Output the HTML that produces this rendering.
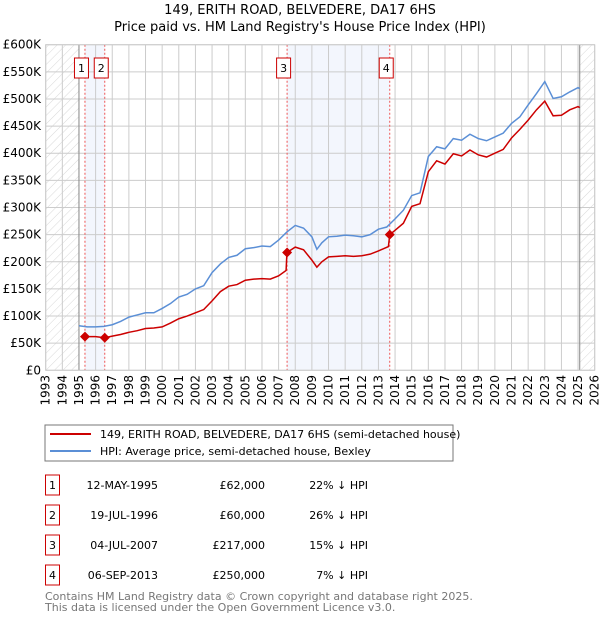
<!DOCTYPE html>
<html><head><meta charset="utf-8"><style>
body{margin:0;background:#fff;font-family:"DejaVu Sans","Liberation Sans",sans-serif;}
#wrap{position:relative;width:600px;height:620px;}
</style></head><body><div id="wrap">
<svg id="svg" width="600" height="620" style="position:absolute;left:0;top:0">
<defs><pattern id="hatch" width="6" height="6" patternUnits="userSpaceOnUse" patternTransform="rotate(45)"><line x1="0" y1="0" x2="0" y2="6" stroke="#d8d8d8" stroke-width="1"/></pattern></defs>
<text x="300" y="14" text-anchor="middle" font-size="13">149, ERITH ROAD, BELVEDERE, DA17 6HS</text>
<text x="300" y="31" text-anchor="middle" font-size="13">Price paid vs. HM Land Registry's House Price Index (HPI)</text>
<g id="plot"></g>
<rect x="45" y="425" width="408" height="36" fill="#fff" stroke="#777"/>
<line x1="50" y1="434" x2="91" y2="434" stroke="#cc0000" stroke-width="2"/>
<text x="100" y="438" font-size="11">149, ERITH ROAD, BELVEDERE, DA17 6HS (semi-detached house)</text>
<line x1="50" y1="451" x2="91" y2="451" stroke="#5b8fd6" stroke-width="2"/>
<text x="100" y="455" font-size="11">HPI: Average price, semi-detached house, Bexley</text>
<g id="table" font-size="11"></g>
<text x="45" y="600" font-size="11" fill="#777">Contains HM Land Registry data © Crown copyright and database right 2025.</text>
<text x="45" y="611" font-size="11" fill="#777">This data is licensed under the Open Government Licence v3.0.</text>
</svg></div>
<script>
const yTicks=[0,50,100,150,200,250,300,350,400,450,500,550,600];
const years=[1993,1994,1995,1996,1997,1998,1999,2000,2001,2002,2003,2004,2005,2006,2007,2008,2009,2010,2011,2012,2013,2014,2015,2016,2017,2018,2019,2020,2021,2022,2023,2024,2025,2026];
const hpiT=[1995.0,1995.5,1996,1996.5,1997,1997.5,1998,1998.5,1999,1999.5,2000,2000.5,2001,2001.5,2002,2002.5,2003,2003.5,2004,2004.5,2005,2005.5,2006,2006.5,2007,2007.5,2008,2008.5,2009,2009.3,2009.6,2010,2010.5,2011,2011.5,2012,2012.5,2013,2013.5,2014,2014.5,2015,2015.5,2016,2016.5,2017,2017.5,2018,2018.5,2019,2019.5,2020,2020.5,2021,2021.5,2022,2022.5,2023,2023.5,2024,2024.5,2025,2025.1];
const hpiV=[82,80,80,81,84,90,98,102,106,106,114,123,135,140,150,156,180,196,208,212,224,226,229,228,240,255,267,262,246,223,235,246,247,249,248,246,250,260,264,279,295,322,327,394,412,408,427,424,435,427,423,430,437,455,467,489,510,532,501,504,513,521,519];
const priceT=[1995.37,1996,1996.55,1997,1997.5,1998,1998.5,1999,1999.5,2000,2000.5,2001,2001.5,2002,2002.5,2003,2003.5,2004,2004.5,2005,2005.5,2006,2006.5,2007,2007.45,2007.5,2008,2008.5,2009,2009.3,2009.6,2010,2010.5,2011,2011.5,2012,2012.5,2013,2013.6,2013.68,2014,2014.5,2015,2015.5,2016,2016.5,2017,2017.5,2018,2018.5,2019,2019.5,2020,2020.5,2021,2021.5,2022,2022.5,2023,2023.5,2024,2024.5,2025,2025.1];
const priceV=[62,62,60,63,66,70,73,77,78,80,87,95,100,106,112,128,145,155,158,166,168,169,168,174,184,217,227,222,203,190,200,209,210,211,210,211,214,220,228,250,258,271,302,307,366,386,380,399,395,406,397,393,400,407,428,444,461,480,496,469,470,480,486,484];
const saleLabels=["1","2","3","4"];
const saleT=[1995.36,1996.55,2007.51,2013.68];
const saleV=[62,60,217,250];
const saleDates=["12-MAY-1995","19-JUL-1996","04-JUL-2007","06-SEP-2013"];
const salePrices=["£62,000","£60,000","£217,000","£250,000"];
const saleDiffs=["22% ↓ HPI","26% ↓ HPI","15% ↓ HPI","7% ↓ HPI"];

const X0=45.7,X1=594.7,Y0=370.3,Y1=44.7;
const x=t=>X0+(t-1993)/(2026-1993)*(X1-X0);
const y=v=>Y0-v/600*(Y0-Y1);
const NS="http://www.w3.org/2000/svg";
const plot=document.getElementById('plot');
function mk(tag,attrs,parent){const e=document.createElementNS(NS,tag);for(const k in attrs)e.setAttribute(k,attrs[k]);(parent||plot).appendChild(e);return e;}
let e;
e=mk('rect',{x:X0,y:Y1,width:X1-X0,height:Y0-Y1,fill:'#fff'});


[[0,1],[2,3]].forEach(p=>{
 e=mk('rect',{x:x(saleT[p[0]]),y:Y1,width:x(saleT[p[1]])-x(saleT[p[0]]),height:Y0-Y1,fill:'#f3f6fd'});
 
 
});
e=mk('rect',{x:X0,y:Y1,width:x(1995)-X0,height:Y0-Y1,fill:'url(#hatch)'});


e=mk('rect',{x:x(2025.1),y:Y1,width:X1-x(2025.1),height:Y0-Y1,fill:'url(#hatch)'});


yTicks.forEach(v=>{
 e=mk('line',{x1:X0,x2:X1,y1:y(v),y2:y(v),stroke:'#ccc'});
 
 
 e=mk('text',{x:41,y:y(v)+4,'text-anchor':'end','font-size':12});
 e.textContent=v===0?'£0':'£'+v+'K';
 
 
});
years.forEach(yr=>{
 e=mk('line',{x1:x(yr),x2:x(yr),y1:Y1,y2:Y0,stroke:'#ccc'});
 
 
 e=mk('text',{transform:`translate(${x(yr)+4},375) rotate(-90)`,'text-anchor':'end','font-size':12});
 e.textContent=yr;
 
 
});
e=mk('line',{x1:x(1995),x2:x(1995),y1:Y1,y2:Y0,stroke:'#888'});


e=mk('line',{x1:x(2025.1),x2:x(2025.1),y1:Y1,y2:Y0,stroke:'#888'});


saleT.forEach((t,i)=>{
 e=mk('line',{x1:x(t),x2:x(t),y1:Y1,y2:Y0,stroke:'#e55','stroke-dasharray':'2,2'});
 
 
 const cx=x(t)-3.5;
 e=mk('rect',{x:cx-7,y:58,width:14,height:20,fill:'#fff',stroke:'#cc0000'});
 
 
 e=mk('text',{x:cx,y:72,'text-anchor':'middle','font-size':11});
 e.textContent=saleLabels[i];
 
 
});
e=mk('rect',{x:X0,y:Y1,width:X1-X0,height:Y0-Y1,fill:'none',stroke:'#ccc'});


e=mk('polyline',{points:hpiT.map((t,i)=>x(t)+','+y(hpiV[i])).join(' '),fill:'none',stroke:'#5b8fd6','stroke-width':1.5});


e=mk('polyline',{points:priceT.map((t,i)=>x(t)+','+y(priceV[i])).join(' '),fill:'none',stroke:'#cc0000','stroke-width':1.5});


saleT.forEach((t,i)=>{
 const cx=x(t),cy=y(saleV[i]);
 e=mk('polygon',{points:`${cx},${cy-5} ${cx+5},${cy} ${cx},${cy+5} ${cx-5},${cy}`,fill:'#cc0000'});
 
 
});
const tb=document.getElementById('table');
saleLabels.forEach((l,i)=>{
 const yy=483+i*30;
 e=mk('rect',{x:45.5,y:yy-8,width:14,height:20,fill:'#fff',stroke:'#cc0000'},tb);
 
 
 e=mk('text',{x:52.5,y:yy+6,'text-anchor':'middle'},tb);e.textContent=l;
 
 
 e=mk('text',{x:158,y:yy+6,'text-anchor':'end'},tb);e.textContent=saleDates[i];
 
 
 e=mk('text',{x:265,y:yy+6,'text-anchor':'end'},tb);e.textContent=salePrices[i];
 
 
 e=mk('text',{x:368,y:yy+6,'text-anchor':'end'},tb);e.textContent=saleDiffs[i];
 
 
});
</script></body></html>
